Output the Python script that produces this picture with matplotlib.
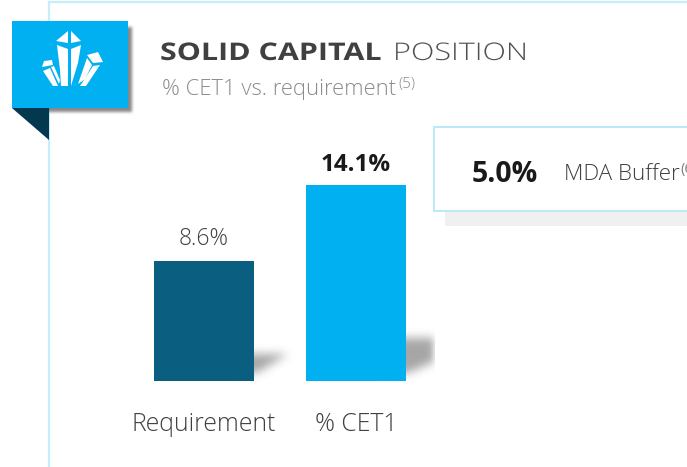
import numpy as np
import matplotlib
matplotlib.use("Agg")
import matplotlib.pyplot as plt
from matplotlib.patches import Polygon, Rectangle
from matplotlib.path import Path
from matplotlib.patheffects import AbstractPathEffect
from matplotlib.transforms import Affine2D
from matplotlib.colors import to_rgb

categories = ["Requirement", "% CET1"]
values = [8.6, 14.1]
value_labels = ["8.6%", "14.1%"]
bar_colors = ["#0a5f80", "#00b0f0"]

W, H = 687, 467
plt.rcParams['font.family'] = ['Open Sans', 'DejaVu Sans']


class StretchX(AbstractPathEffect):
    # the source title is letter spaced, matplotlib has no tracking so widen it
    def __init__(self, sx):
        super().__init__()
        self.sx = sx

    def draw_path(self, renderer, gc, tpath, affine, rgbFace=None):
        renderer.draw_path(gc, tpath, Affine2D().scale(self.sx, 1) + affine, rgbFace)


fig = plt.figure(figsize=(W / 100, H / 100), dpi=100)

# background layer in pixel coords, y going down like the picture
bg = fig.add_axes([0, 0, 1, 1])


def soft_shadow(ax, pts, box, blur=5, color="#707070", alpha=0.5, z=1):
    # polygon mask blurred with a few box passes, drawn as an rgba image
    x0, x1, y0, y1 = box
    xs, ys = np.meshgrid(np.arange(x0, x1) + 0.5, np.arange(y0, y1) + 0.5)
    grid = np.column_stack([xs.ravel(), ys.ravel()])
    mask = Path(pts).contains_points(grid).reshape(xs.shape).astype(float)
    kernel = np.ones(blur) / blur
    for _ in range(3):
        mask = np.apply_along_axis(lambda r: np.convolve(r, kernel, mode="same"), 0, mask)
        mask = np.apply_along_axis(lambda r: np.convolve(r, kernel, mode="same"), 1, mask)
    rgba = np.zeros(mask.shape + (4,))
    rgba[..., :3] = to_rgb(color)
    rgba[..., 3] = mask * alpha
    ax.imshow(rgba, extent=(x0, x1, y1, y0), aspect="auto", interpolation="bilinear", zorder=z)


# panel border
bg.plot([49, 49], [2, H], color="#c6edfa", lw=1.6, zorder=1)
bg.plot([49, W], [2, 2], color="#c6edfa", lw=1.6, zorder=1)

# banner
soft_shadow(bg, [(18, 27), (132, 27), (132, 112), (18, 112)], (5, 150, 15, 130), blur=3, color="#606060", alpha=0.75, z=2)
bg.add_patch(Polygon([(12, 108), (49, 108), (49, 140)], closed=True, fc="#04384f", ec="none", zorder=3))
bg.add_patch(Rectangle((12, 21), 116, 87, fc="#00b0f0", ec="none", zorder=4))

# crystal icon
icon = [
    [(56, 41), (68, 31), (68, 43)],
    [(71, 31), (81, 41), (71, 43)],
    [(57, 45), (68, 49), (68, 86), (61, 86), (60, 70)],
    [(71, 49), (81, 45), (78, 63), (71, 86)],
    [(42, 67), (44, 61), (52, 60), (53, 65)],
    [(43, 71), (50, 68), (58, 86), (53, 86)],
    [(51, 67), (54, 66), (60, 80), (59, 84)],
    [(87, 55), (98, 52), (103, 62), (93, 63)],
    [(87, 58), (92, 65), (85, 79), (78, 84)],
    [(93, 66), (100, 65), (86, 86), (80, 86)],
]
for pts in icon:
    bg.add_patch(Polygon(pts, closed=True, fc="white", ec="none", zorder=5))

# title
bg.text(160, 54, "SOLID CAPITAL", fontsize=17.5, fontweight="bold", color="#404040", va="center", ha="left",
        path_effects=[StretchX(220 / 176)])
bg.text(393, 54, "POSITION", fontsize=17.5, color="#505050", va="center", ha="left", fontweight="light",
        path_effects=[StretchX(1.26)])
bg.text(162, 89, "% CET1 vs. requirement", fontsize=15.8, color="#8c8c8c", va="center", ha="left", fontweight="light")
bg.text(398, 84, "(5)", fontsize=11, color="#8c8c8c", va="center", ha="left", fontweight="light")

# MDA box
bg.add_patch(Rectangle((445, 212), W - 445, 14, fc="#f0f0f0", ec="none", zorder=1))
bg.add_patch(Rectangle((433.5, 126.5), W, 84.5, fc="white", ec="#bce8f8", lw=1.4, zorder=2))
bg.text(472, 174, "5.0%", fontsize=20.4, fontweight="bold", color="#1a1a1a", va="center", ha="left", zorder=3)
bg.text(564, 175, "MDA Buffer", fontsize=16.2, color="#404040", va="center", ha="left", fontweight="light", zorder=3)
bg.text(680, 169, "(6)", fontsize=10.5, color="#808080", va="center", ha="left", zorder=3, clip_on=True)

# bar shadows
soft_shadow(bg, [(235, 354), (288, 354), (256, 373), (235, 373)], (225, 320, 325, 395), blur=9, color="#707070", alpha=0.62)
soft_shadow(bg, [(385, 338), (480, 338), (480, 342), (408, 373), (385, 373)], (375, 435, 310, 395), blur=9, color="#707070", alpha=0.62)

bg.set_xlim(0, W)
bg.set_ylim(H, 0)
bg.axis("off")

# bars, pixel scale: 152 px per category, 13.93 px per percent
left, right = 120, 440
top, bottom = 100, 381
ax = fig.add_axes([left / W, 1 - bottom / H, (right - left) / W, (bottom - top) / H])
ax.patch.set_alpha(0)
ax.set_xlim((left - 204) / 152, (right - 204) / 152)
ax.set_ylim(0, (bottom - top) / 13.93)
x = list(range(len(categories)))
ax.bar(x, values, width=100 / 152, color=bar_colors, zorder=3)
for s in ax.spines.values():
    s.set_visible(False)
ax.tick_params(axis="y", left=False, labelleft=False)
ax.tick_params(axis="x", bottom=False, pad=19)
ax.set_xticks(x)
ax.set_xticklabels(categories, fontsize=17.8, color="#404040", fontweight="light")

ax.text(x[0], values[0] + 0.75, value_labels[0], ha="center", va="bottom", fontsize=16.5, color="#404040", fontweight="light")
ax.text(x[1], values[1] + 0.55, value_labels[1], ha="center", va="bottom", fontsize=17.4, color="#1a1a1a", fontweight="bold")

fig.savefig("out.png", dpi=100)
